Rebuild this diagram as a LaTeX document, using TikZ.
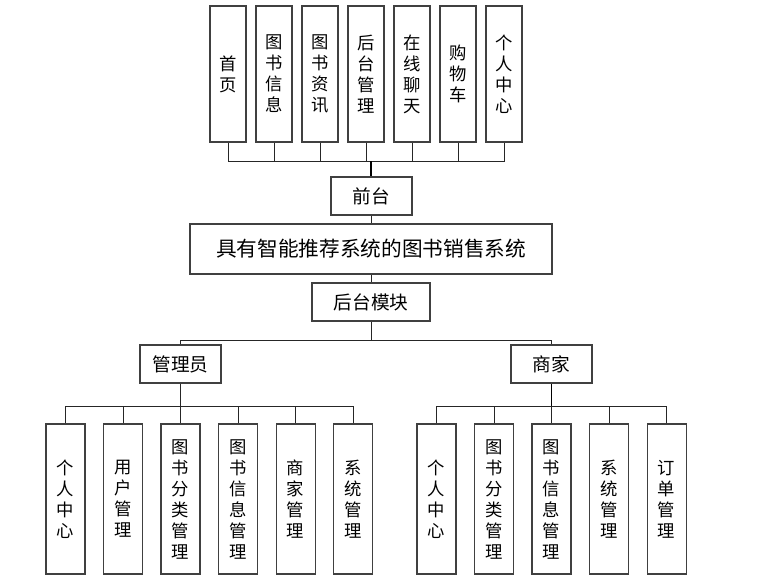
\documentclass[tikz,border=0pt]{standalone}
\usepackage{fontspec}
\setmainfont{Noto Sans CJK SC}
\usetikzlibrary{positioning}

\begin{document}
\begin{tikzpicture}[x=0.75pt,y=-0.75pt,
		box/.style={draw=black!75,line width=0.9pt,inner sep=0pt,minimum width=60.75pt,minimum height=28.5pt,font=\fontsize{14pt}{16pt}\selectfont},
		tall/.style={draw=black!75,line width=0.9pt,inner sep=0pt,align=center,minimum width=27pt,minimum height=102pt,font=\fontsize{13pt}{15.75pt}\selectfont,node distance=6.6pt},
		low/.style={tall,minimum width=29.25pt,minimum height=112.5pt,node distance=13pt},
		link/.style={draw=black!85,line width=0.75pt}]
			\useasboundingbox (0,0) rectangle (774,579);
			\node[box,minimum width=271.5pt,minimum height=37.5pt,font=\fontsize{15.5pt}{18pt}\selectfont] (System) at (371,249) {具有智能推荐系统的图书销售系统};
			\node[box]  (Front)  at (371.5,196) {前台};
			\node[box,minimum width=88.5pt] (Back) at (371,302) {后台模块};
			\node[box]  (Admin)  at (180.5,364) {管理员};
			\node[box]  (Seller) at (551.5,364) {商家};

			\node[tall] (Home) at (228,74) {首\\页};
			\node[tall,right=of Home]     (BookInfo)  {图\\书\\信\\息};
			\node[tall,right=of BookInfo] (BookNews)  {图\\书\\资\\讯};
			\node[tall,right=of BookNews] (BackEntry) {后\\台\\管\\理};
			\node[tall,right=of BackEntry] (Chat)     {在\\线\\聊\\天};
			\node[tall,right=of Chat]     (Cart)      {购\\物\\车};
			\node[tall,right=of Cart]     (UserCenter) {个\\人\\中\\心};

			\node[low] (AdminSelf) at (65.5,499) {个\\人\\中\\心};
			\node[low,right=of AdminSelf]  (UserMgr)     {用\\户\\管\\理};
			\node[low,right=of UserMgr]    (CategoryMgr) {图\\书\\分\\类\\管\\理};
			\node[low,right=of CategoryMgr] (BookMgr)    {图\\书\\信\\息\\管\\理};
			\node[low,right=of BookMgr]    (SellerMgr)   {商\\家\\管\\理};
			\node[low,right=of SellerMgr]  (AdminSys)    {系\\统\\管\\理};

			\node[low] (SellerSelf) at (436.5,499) {个\\人\\中\\心};
			\node[low,right=of SellerSelf]     (SellerCategory) {图\\书\\分\\类\\管\\理};
			\node[low,right=of SellerCategory] (SellerBook)     {图\\书\\信\\息\\管\\理};
			\node[low,right=of SellerBook]     (SellerSys)      {系\\统\\管\\理};
			\node[low,right=of SellerSys]      (OrderMgr)       {订\\单\\管\\理};

			\coordinate (TopJoin)    at (371,161);
			\coordinate (BackJoin)   at (371,340);
			\coordinate (AdminJoin)  at (180.5,406);
			\coordinate (SellerJoin) at (551.5,406);

			\draw[link] (Home.south) |- (TopJoin) (BookInfo.south) |- (TopJoin) (BookNews.south) |- (TopJoin) (BackEntry.south) |- (TopJoin)
						(Chat.south) |- (TopJoin) (Cart.south) |- (TopJoin) (UserCenter.south) |- (TopJoin);
			\draw[link,line width=1.3pt,black] (TopJoin) -- (TopJoin |- Front.north);
			\draw[link] (Front.south) -- (Front.south |- System.north);
			\draw[link] (System.south) -- (System.south |- Back.north);
			\draw[link] (Back.south) -- (BackJoin);
			\draw[link] (Admin.north) |- (BackJoin) (Seller.north) |- (BackJoin);

			\draw[link] (Admin.south) -- (AdminJoin);
			\draw[link] (AdminSelf.north) |- (AdminJoin) (UserMgr.north) |- (AdminJoin) (CategoryMgr.north) |- (AdminJoin)
						(BookMgr.north) |- (AdminJoin) (SellerMgr.north) |- (AdminJoin) (AdminSys.north) |- (AdminJoin);
			\draw[link,line width=1.3pt,black] (Seller.south) -- (SellerJoin);
			\draw[link] (SellerSelf.north) |- (SellerJoin) (SellerCategory.north) |- (SellerJoin) (SellerBook.north) |- (SellerJoin)
						(SellerSys.north) |- (SellerJoin) (OrderMgr.north) |- (SellerJoin);
		\end{tikzpicture}
\end{document}
